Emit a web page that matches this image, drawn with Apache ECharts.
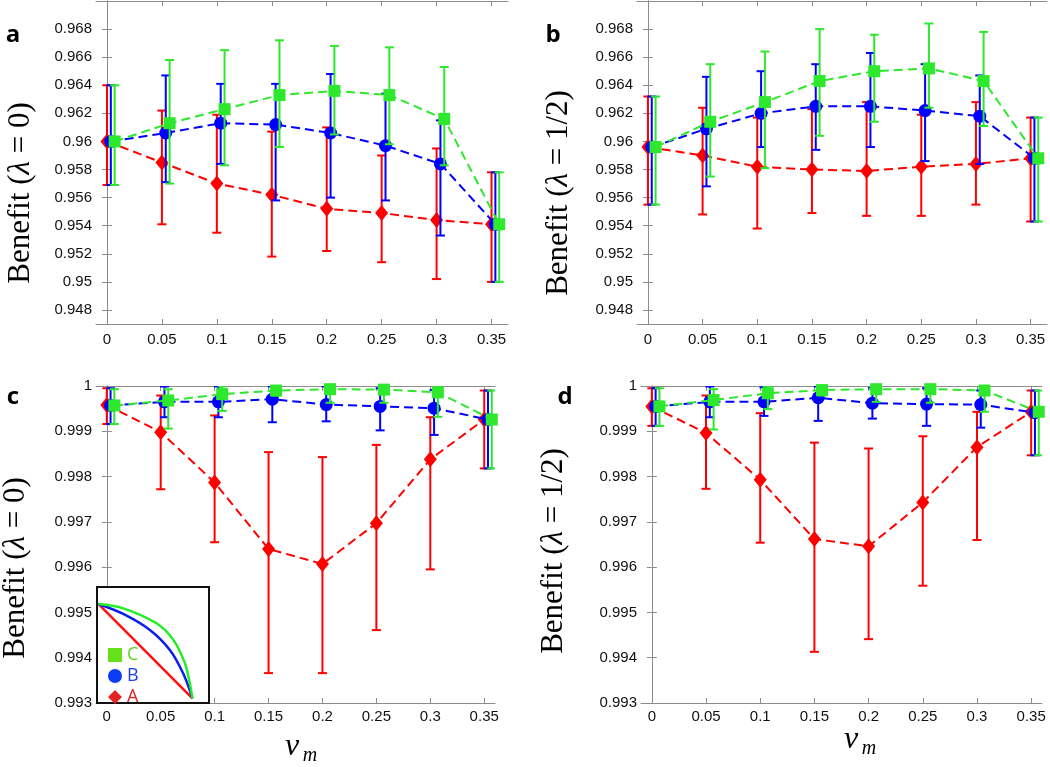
<!DOCTYPE html>
<html><head><meta charset="utf-8">
<script src="https://cdn.jsdelivr.net/npm/echarts@6/dist/echarts.min.js"></script>
<style>html,body{margin:0;padding:0;background:#fff}#c{width:1050px;height:767px}</style>
</head><body><div id="c"></div>
<script>
// ---------- data ----------
const vm = [0, 0.05, 0.1, 0.15, 0.2, 0.25, 0.3, 0.35];
const xTicks = [0, 0.05, 0.1, 0.15, 0.2, 0.25, 0.3, 0.35];
const yTicksTop = [0.948, 0.95, 0.952, 0.954, 0.956, 0.958, 0.96, 0.962, 0.964, 0.966, 0.968];
const yTicksBottom = [0.993, 0.994, 0.995, 0.996, 0.997, 0.998, 0.999, 1];

// panel a : lambda = 0 (top)
const aA_mean = [0.9600, 0.9585, 0.9570, 0.9562, 0.9552, 0.9549, 0.9544, 0.9541];
const aA_lo   = [0.9569, 0.9541, 0.9535, 0.9518, 0.9522, 0.9514, 0.9502, 0.9500];
const aA_hi   = [0.9640, 0.9622, 0.9619, 0.9607, 0.9610, 0.9590, 0.9595, 0.9578];
const aB_mean = [0.9600, 0.9606, 0.9613, 0.9612, 0.9606, 0.9597, 0.9584, 0.9541];
const aB_lo   = [0.9569, 0.9571, 0.9584, 0.9558, 0.9560, 0.9558, 0.9533, 0.9500];
const aB_hi   = [0.9640, 0.9647, 0.9641, 0.9641, 0.9648, 0.9634, 0.9615, 0.9578];
const aC_mean = [0.9600, 0.9613, 0.9623, 0.9633, 0.9636, 0.9633, 0.9616, 0.9541];
const aC_lo   = [0.9569, 0.9570, 0.9583, 0.9596, 0.9605, 0.9598, 0.9583, 0.9500];
const aC_hi   = [0.9640, 0.9658, 0.9665, 0.9672, 0.9668, 0.9667, 0.9653, 0.9578];

// panel b : lambda = 1/2 (top)
const bA_mean = [0.9596, 0.9590, 0.9582, 0.9580, 0.9579, 0.9582, 0.9584, 0.9588];
const bA_lo   = [0.9555, 0.9548, 0.9538, 0.9549, 0.9547, 0.9547, 0.9555, 0.9543];
const bA_hi   = [0.9632, 0.9624, 0.9617, 0.9623, 0.9628, 0.9619, 0.9628, 0.9617];
const bB_mean = [0.9596, 0.9609, 0.9620, 0.9625, 0.9625, 0.9622, 0.9618, 0.9588];
const bB_lo   = [0.9555, 0.9568, 0.9596, 0.9594, 0.9596, 0.9586, 0.9584, 0.9543];
const bB_hi   = [0.9632, 0.9646, 0.9650, 0.9655, 0.9663, 0.9655, 0.9647, 0.9617];
const bC_mean = [0.9596, 0.9614, 0.9628, 0.9643, 0.9650, 0.9652, 0.9643, 0.9588];
const bC_lo   = [0.9555, 0.9575, 0.9581, 0.9604, 0.9614, 0.9624, 0.9611, 0.9543];
const bC_hi   = [0.9632, 0.9655, 0.9664, 0.9680, 0.9676, 0.9684, 0.9678, 0.9617];

// panel c : lambda = 0 (bottom)
const cA_mean = [0.99958, 0.99898, 0.99787, 0.99640, 0.99607, 0.99697, 0.99838, 0.99926];
const cA_lo   = [0.99916, 0.99772, 0.99655, 0.99366, 0.99366, 0.99461, 0.99595, 0.99818];
const cA_hi   = [0.99995, 0.99979, 0.99935, 0.99854, 0.99843, 0.99870, 0.99931, 0.99990];
const cB_mean = [0.99957, 0.99965, 0.99965, 0.99971, 0.99959, 0.99955, 0.99951, 0.99926];
const cB_lo   = [0.99916, 0.99931, 0.99931, 0.99920, 0.99922, 0.99902, 0.99892, 0.99818];
const cB_hi   = [0.99995, 0.99999, 0.99999, 0.99999, 0.99999, 0.99995, 0.99991, 0.99990];
const cC_mean = [0.99957, 0.99968, 0.99982, 0.99990, 0.99993, 0.99992, 0.99986, 0.99926];
const cC_lo   = [0.99916, 0.99906, 0.99945, 0.99979, 0.99963, 0.99963, 0.99932, 0.99818];
const cC_hi   = [0.99993, 0.99993, 0.99999, 1.00000, 1.00000, 1.00000, 0.99997, 0.99990];

// panel d : lambda = 1/2 (bottom)
const dA_mean = [0.99955, 0.99896, 0.99793, 0.99662, 0.99646, 0.99743, 0.99865, 0.99943];
const dA_lo   = [0.99912, 0.99773, 0.99654, 0.99413, 0.99441, 0.99559, 0.99660, 0.99847];
const dA_hi   = [0.99995, 0.99979, 0.99940, 0.99875, 0.99862, 0.99889, 0.99943, 0.99990];
const dB_mean = [0.99955, 0.99965, 0.99965, 0.99974, 0.99962, 0.99960, 0.99959, 0.99941];
const dB_lo   = [0.99912, 0.99931, 0.99934, 0.99923, 0.99928, 0.99912, 0.99908, 0.99847];
const dB_hi   = [0.99995, 0.99999, 0.99997, 0.99999, 0.99995, 0.99995, 0.99990, 0.99990];
const dC_mean = [0.99955, 0.99969, 0.99984, 0.99991, 0.99993, 0.99993, 0.99990, 0.99943];
const dC_lo   = [0.99912, 0.99904, 0.99949, 0.99979, 0.99965, 0.99963, 0.99943, 0.99847];
const dC_hi   = [0.99995, 0.99993, 0.99999, 1.00000, 1.00000, 1.00000, 0.99999, 0.99990];

// inset schematic curves (unit square)
const insetA = [[0, 1], [1, 0]];
const insetB = [[0, 1], [0.265, 0.894], [0.548, 0.724], [0.76, 0.512], [0.901, 0.265], [1, 0]];
const insetC = [[0, 1], [0.265, 0.954], [0.618, 0.795], [0.795, 0.622], [0.919, 0.374], [0.972, 0.159], [1, 0]];

// ---------- styling ----------
const OFFSET = {A: 0, B: 0.0035, C: 0.007};
const COLOR = {A: '#ff0000', B: '#0000ff', C: '#2ee82e'};
const SYMBOL = {A: 'diamond', B: 'circle', C: 'rect'};
const SYMSIZE = {A: [13, 16], B: 13, C: 12};
const Z = {A: 2, B: 3, C: 4};
const AXIS_COLOR = '#8c8c8c';
const SANS = 'Liberation Sans, Arial, sans-serif';
const SERIF = 'Liberation Serif, Times New Roman, serif';

const panels = [
  {grid: {left: 96, top: 1, width: 412, height: 323}, x: [-0.01, 0.365], y: [0.947, 0.970], yTicks: yTicksTop,
   d: {A: [aA_mean, aA_lo, aA_hi], B: [aB_mean, aB_lo, aB_hi], C: [aC_mean, aC_lo, aC_hi]}},
  {grid: {left: 637, top: 1, width: 410, height: 323}, x: [-0.01, 0.365], y: [0.947, 0.970], yTicks: yTicksTop,
   d: {A: [bA_mean, bA_lo, bA_hi], B: [bB_mean, bB_lo, bB_hi], C: [bC_mean, bC_lo, bC_hi]}},
  {grid: {left: 96, top: 386, width: 399, height: 317}, x: [-0.01, 0.36], y: [0.993, 1], yTicks: yTicksBottom,
   d: {A: [cA_mean, cA_lo, cA_hi], B: [cB_mean, cB_lo, cB_hi], C: [cC_mean, cC_lo, cC_hi]}},
  {grid: {left: 641, top: 386, width: 401, height: 317}, x: [-0.01, 0.36], y: [0.993, 1], yTicks: yTicksBottom,
   d: {A: [dA_mean, dA_lo, dA_hi], B: [dB_mean, dB_lo, dB_hi], C: [dC_mean, dC_lo, dC_hi]}}
];

const grids = [], xAxes = [], yAxes = [], series = [];
const lineAx = {show: true, lineStyle: {color: AXIS_COLOR, width: 1}};

function errRender(color) {
  return function (params, api) {
    const x = api.value(0);
    const t = api.coord([x, api.value(3)]);
    const b = api.coord([x, api.value(2)]);
    const w = 4.5;
    const st = {stroke: color, lineWidth: 2, fill: null};
    return {type: 'group', children: [
      {type: 'line', shape: {x1: t[0], y1: t[1], x2: b[0], y2: b[1]}, style: st},
      {type: 'line', shape: {x1: t[0] - w, y1: t[1], x2: t[0] + w, y2: t[1]}, style: st},
      {type: 'line', shape: {x1: b[0] - w, y1: b[1], x2: b[0] + w, y2: b[1]}, style: st}
    ]};
  };
}

panels.forEach((p, i) => {
  grids.push(Object.assign({containLabel: false}, p.grid));
  const xi = xAxes.length, yi = yAxes.length;
  xAxes.push({type: 'value', gridIndex: i, position: 'bottom', min: p.x[0], max: p.x[1],
    axisLine: lineAx, splitLine: {show: false},
    axisTick: {inside: true, length: 5, customValues: xTicks, lineStyle: {color: AXIS_COLOR}},
    axisLabel: {customValues: xTicks, color: '#111', fontSize: 15, fontFamily: SANS, margin: i < 2 ? 8 : 6}});
  xAxes.push({type: 'value', gridIndex: i, position: 'top', min: p.x[0], max: p.x[1],
    axisLine: lineAx, splitLine: {show: false},
    axisTick: {inside: true, length: 5, customValues: xTicks, lineStyle: {color: AXIS_COLOR}},
    axisLabel: {show: false}});
  yAxes.push({type: 'value', gridIndex: i, position: 'left', min: p.y[0], max: p.y[1],
    axisLine: lineAx, splitLine: {show: false},
    axisTick: {inside: true, length: 5, customValues: p.yTicks, lineStyle: {color: AXIS_COLOR}},
    axisLabel: {customValues: p.yTicks, color: '#111', fontSize: 15, fontFamily: SANS, margin: 4}});
  yAxes.push({type: 'value', gridIndex: i, position: 'right', min: p.y[0], max: p.y[1],
    axisLine: lineAx, splitLine: {show: false},
    axisTick: {inside: true, length: 5, customValues: p.yTicks, lineStyle: {color: AXIS_COLOR}},
    axisLabel: {show: false}});
  ['A', 'B', 'C'].forEach(k => {
    const [mean, lo, hi] = p.d[k];
    const pts = vm.map((v, j) => [v + OFFSET[k], mean[j], lo[j], hi[j]]);
    series.push({type: 'custom', name: k, xAxisIndex: xi, yAxisIndex: yi, z: Z[k], clip: true,
      renderItem: errRender(COLOR[k]), encode: {x: 0, y: 1}, data: pts, silent: true});
    series.push({type: 'line', name: k, xAxisIndex: xi, yAxisIndex: yi, z: Z[k],
      data: pts.map(q => [q[0], q[1]]),
      symbol: SYMBOL[k], symbolSize: SYMSIZE[k], showAllSymbol: true,
      itemStyle: {color: COLOR[k]},
      lineStyle: {color: COLOR[k], width: 2, type: [9, 5]}});
  });
});

// inset
const gi = grids.length;
grids.push({left: 97, top: 587, width: 112, height: 116, show: true, backgroundColor: '#fff',
  borderColor: '#111', borderWidth: 2, z: 5});
const ixi = xAxes.length, iyi = yAxes.length;
xAxes.push({type: 'value', gridIndex: gi, min: -0.014, max: 1.176, show: false});
yAxes.push({type: 'value', gridIndex: gi, min: -0.05, max: 1.18, show: false});
[['insetA', insetA, '#ff1010'], ['insetB', insetB, '#0a1ef0'], ['insetC', insetC, '#22ee22']].forEach(([n, d, c]) => {
  series.push({type: 'line', name: n, xAxisIndex: ixi, yAxisIndex: iyi, data: d, smooth: 0.35,
    symbol: 'none', z: 8, lineStyle: {color: c, width: 2.5}});
});

const graphics = [];
function txt(x, y, text, font, rot, extra) {
  graphics.push({type: 'text', x: x, y: y, rotation: rot || 0, z: 10,
    style: Object.assign({text: text, font: font, fill: '#000', align: 'center', verticalAlign: 'middle'}, extra || {})});
}
const ylabRich = {
  n: {fontFamily: SERIF, fontSize: 31, fill: '#000'},
  i: {fontFamily: SERIF, fontSize: 31, fontStyle: 'italic', fill: '#000'}
};
function ylab(x, y, val) {
  txt(x, y, '{n|Benefit (}{i|λ}{n| = ' + val + ')}', '31px ' + SERIF, Math.PI / 2, {rich: ylabRich});
}
// y-axis titles
ylab(21, 193, '0');
ylab(559, 193, '1/2');
ylab(16, 568, '0');
ylab(554, 551, '1/2');
// panel letters
txt(13, 35, 'a', 'bold 24px Open Sans, sans-serif');
txt(553, 35, 'b', 'bold 24px Open Sans, sans-serif');
txt(13, 397, 'c', 'bold 24px Open Sans, sans-serif');
txt(565, 397, 'd', 'bold 24px Open Sans, sans-serif');
// x titles v_m
txt(292, 747, 'v', 'italic 32px ' + SERIF);
txt(310, 756, 'm', 'italic 20px ' + SERIF);
txt(851, 740, 'v', 'italic 32px ' + SERIF);
txt(869, 749, 'm', 'italic 20px ' + SERIF);

const chart = echarts.init(document.getElementById('c'), null, {renderer: 'canvas'});
chart.setOption({
  animation: false,
  backgroundColor: '#fff',
  grid: grids, xAxis: xAxes, yAxis: yAxes, series: series,
  legend: {
    orient: 'vertical', left: 103, top: 641, itemWidth: 14, itemHeight: 14, itemGap: 3, z: 9,
    selectedMode: false, itemStyle: {borderWidth: 0},
    textStyle: {fontSize: 18, fontFamily: 'Open Sans, sans-serif'},
    data: [
      {name: 'C', icon: 'rect', itemStyle: {color: '#66e019'}, textStyle: {color: '#5fd81a'}},
      {name: 'B', icon: 'circle', itemStyle: {color: '#0d3cf5'}, textStyle: {color: '#1a40e6'}},
      {name: 'A', icon: 'diamond', itemStyle: {color: '#e02222'}, textStyle: {color: '#e02222'}}
    ]
  },
  graphic: graphics
});
</script></body></html>
